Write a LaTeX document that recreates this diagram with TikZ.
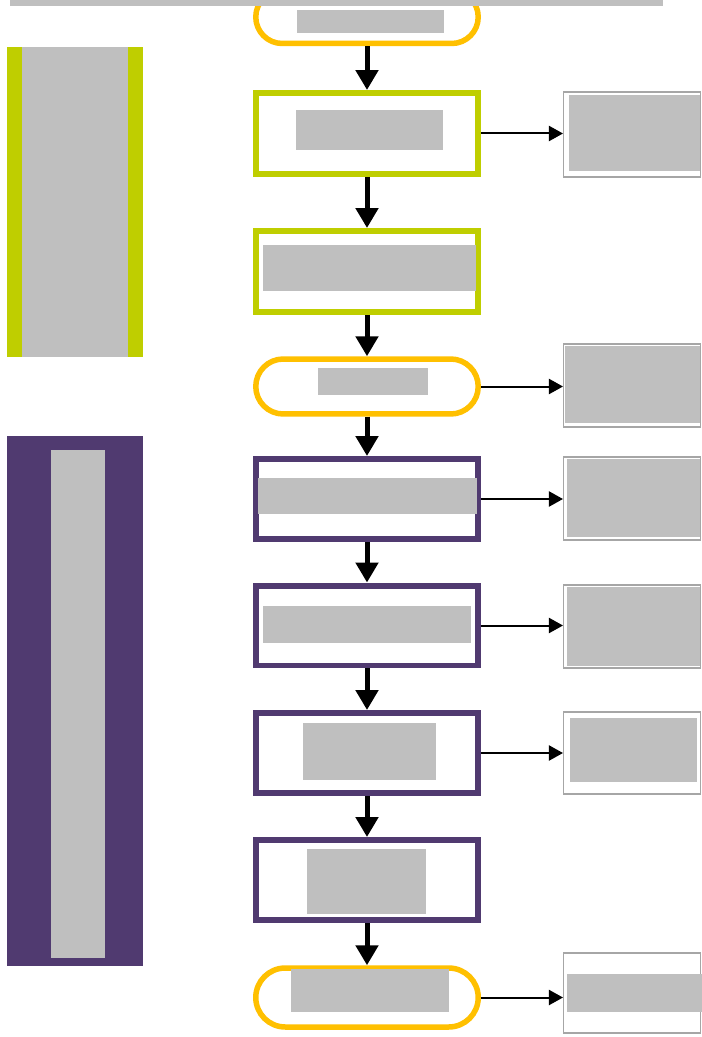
\documentclass[tikz,border=0pt]{standalone}
\usepackage[dvipsnames]{xcolor}
\usepackage{tikz}
\usetikzlibrary{arrows.meta, positioning, shapes.misc}
\definecolor{vert}{RGB}{191,206,0}
\definecolor{jaune}{RGB}{255,192,0}
\definecolor{violet}{RGB}{80,58,112}
\definecolor{gris}{RGB}{191,191,191}
\tikzset{
  bloc/.style={
    rectangle, draw=#1, line width=0.12cm, fill=white,
    minimum width=4.44cm, minimum height=1.6cm, inner sep=0pt
  },
  terminal/.style={
    rounded rectangle, draw=jaune, line width=0.11cm, fill=white,
    minimum width=4.45cm, minimum height=1.1cm, inner sep=0pt
  },
  note/.style={
    rectangle, draw=gray!70, line width=0.6pt, fill=white,
    minimum width=2.74cm, minimum height=1.66cm, inner sep=0pt
  },
  bande/.style={
    rectangle, fill=#1, minimum width=2.72cm, inner sep=0pt
  },
  masque/.style 2 args={
    rectangle, fill=gris, minimum width=#1, minimum height=#2, inner sep=0pt
  },
  fleche/.style={
    -{Triangle[length=0.4cm,width=0.44cm]}, line width=0.1cm
  },
  lien/.style={
    -{Triangle[length=0.28cm,width=0.3cm]}, line width=0.04cm
  }
}

\begin{document}
\begin{tikzpicture}[x=0.02cm, y=-0.02cm]
\useasboundingbox[fill=white] (0,0) rectangle (702,1037);

% colonne de gauche
\node[bande=vert, minimum height=6.2cm] (bv) at (75,202) {};
\node[masque={2.12cm}{6.2cm}] (mbv) at (75,202) {};
\node[bande=violet, minimum height=10.6cm] (bp) at (75,701) {};
\node[masque={1.08cm}{10.16cm}] (mbp) at (78,704) {};

% colonne centrale
\node[terminal, minimum height=1.06cm] (t1) at (367,17) {};
\node[bloc=vert, minimum height=1.62cm] (s1) at (367,133.5) {};
\node[bloc=vert, minimum height=1.62cm] (s2) at (367,271.5) {};
\node[terminal] (t2) at (367,386.5) {};
\node[bloc=violet] (s3) at (367,499) {};
\node[bloc=violet] (s4) at (367,625.5) {};
\node[bloc=violet] (s5) at (367,753) {};
\node[bloc=violet] (s6) at (367,880) {};
\node[terminal, minimum height=1.18cm] (t3) at (367,997.5) {};

\node[masque={2.94cm}{0.46cm}] (mt1) at (370.5,21.5) {};
\node[masque={2.94cm}{0.8cm}] (ms1) at (369.5,130) {};
\node[masque={4.26cm}{0.92cm}] (ms2) at (369.5,268) {};
\node[masque={2.2cm}{0.54cm}] (mt2) at (373,381.5) {};
\node[masque={4.38cm}{0.72cm}] (ms3) at (367.5,496) {};
\node[masque={4.16cm}{0.74cm}] (ms4) at (367,624.5) {};
\node[masque={2.66cm}{1.14cm}] (ms5) at (369.5,751.5) {};
\node[masque={2.38cm}{1.3cm}] (ms6) at (366.5,881.5) {};
\node[masque={3.16cm}{0.86cm}] (mt3) at (370,990.5) {};

\node[masque={13.06cm}{0.12cm}] (barre) at (336.5,3) {};

% colonne de droite
\node[note, minimum height=1.7cm] (n1) at (632,134.5) {};
\node[note] (n2) at (632,385.5) {};
\node[note] (n3) at (632,498.5) {};
\node[note] (n4) at (632,626.5) {};
\node[note, minimum height=1.64cm] (n5) at (632,753) {};
\node[note, minimum height=1.6cm] (n6) at (632,993) {};

\node[masque={2.62cm}{1.52cm}] (mn1) at (634.5,133) {};
\node[masque={2.7cm}{1.54cm}] (mn2) at (632.5,384.5) {};
\node[masque={2.66cm}{1.56cm}] (mn3) at (633.5,498) {};
\node[masque={2.66cm}{1.58cm}] (mn4) at (633.5,626.5) {};
\node[masque={2.54cm}{1.28cm}] (mn5) at (633.5,750) {};
\node[masque={2.7cm}{0.76cm}] (mn6) at (634.5,993) {};

\draw[fleche] (t1.south) -- (s1.north);
\draw[fleche] (s1.south) -- (s2.north);
\draw[fleche] (s2.south) -- (t2.north);
\draw[fleche] (t2.south) -- (s3.north);
\draw[fleche] (s3.south) -- (s4.north);
\draw[fleche] (s4.south) -- (s5.north);
\draw[fleche] (s5.south) -- (s6.north);
\draw[fleche] (s6.south) -- (t3.north);

\draw[lien] (s1.east) -- (s1.east -| n1.west);
\draw[lien] (t2.east) -- (t2.east -| n2.west);
\draw[lien] (s3.east) -- (s3.east -| n3.west);
\draw[lien] (s4.east) -- (s4.east -| n4.west);
\draw[lien] (s5.east) -- (s5.east -| n5.west);
\draw[lien] (t3.east) -- (t3.east -| n6.west);
\end{tikzpicture}
\end{document}
